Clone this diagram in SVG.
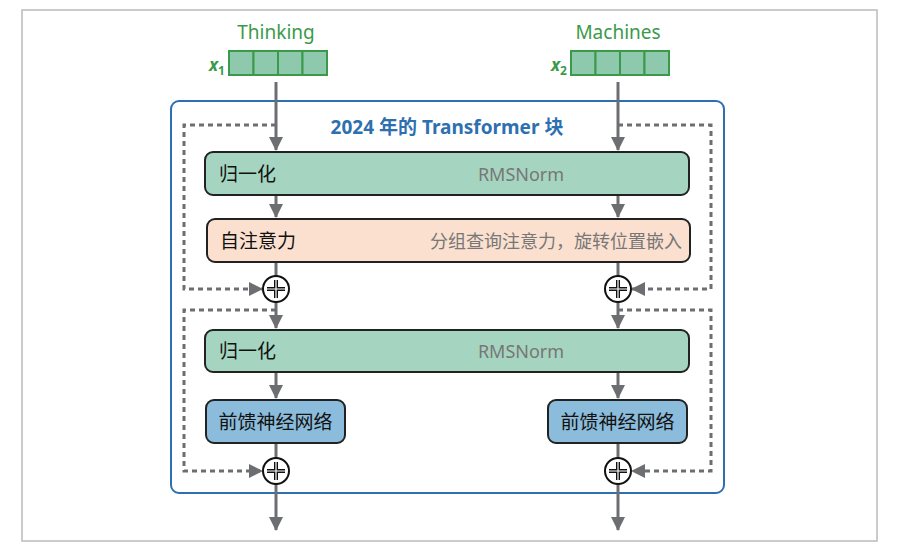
<svg xmlns="http://www.w3.org/2000/svg" width="899" height="550" viewBox="0 0 899 550">
<defs>
<marker id="ah" markerWidth="10" markerHeight="10" refX="8" refY="5" orient="auto" markerUnits="userSpaceOnUse"><path d="M0,0 L10,5 L0,10 Z" fill="#6d6e71"/></marker>
<marker id="ah2" markerWidth="14" markerHeight="14" refX="13" refY="7" orient="auto" markerUnits="userSpaceOnUse"><path d="M0,0 L14,7 L0,14 Z" fill="#6d6e71"/></marker>
<g id="plus"><circle r="13" fill="#fff" stroke="#111" stroke-width="2"/><path d="M-9,0 H9 M0,-9 V9" stroke="#111" stroke-width="4"/><path d="M-9,0 H9 M0,-9 V9" stroke="#fff" stroke-width="1.2"/></g>
</defs>
<style>
text{font-family:"Noto Sans","Noto Sans CJK SC",sans-serif}
.cell{fill:#8fc9ad;stroke:#3a9a4a;stroke-width:2}
.lbl{fill:#3a9a4a;font-size:19px;text-anchor:middle}
.box{stroke:#222;stroke-width:2}
.cn{font-size:19px;fill:#111}
.en{font-size:18px;fill:#777}
.w{stroke:#6d6e71;stroke-width:3;fill:none}
.d{stroke:#6d6e71;stroke-width:3;fill:none;stroke-dasharray:5,4}
</style>
<rect x="22" y="10" width="855" height="531" fill="none" stroke="#bbb" stroke-width="1.5"/>
<g id="input1">
<text class="lbl" x="276" y="39">Thinking</text>
<text x="209" y="71" font-size="17" fill="#3a9a4a" font-style="italic" font-weight="bold">x<tspan font-size="12" dy="4" font-style="normal">1</tspan></text>
<rect class="cell" x="229" y="51" width="24.5" height="24"/><rect class="cell" x="253.5" y="51" width="24.5" height="24"/><rect class="cell" x="278" y="51" width="24.5" height="24"/><rect class="cell" x="302.5" y="51" width="24.5" height="24"/>
</g>
<g id="input2">
<text class="lbl" x="618" y="39">Machines</text>
<text x="551" y="71" font-size="17" fill="#3a9a4a" font-style="italic" font-weight="bold">x<tspan font-size="12" dy="4" font-style="normal">2</tspan></text>
<rect class="cell" x="571" y="51" width="24.5" height="24"/><rect class="cell" x="595.5" y="51" width="24.5" height="24"/><rect class="cell" x="620" y="51" width="24.5" height="24"/><rect class="cell" x="644.5" y="51" width="24.5" height="24"/>
</g>
<g id="block">
<rect x="171" y="101" width="553" height="392" rx="8" fill="none" stroke="#2e6fb0" stroke-width="2"/>
<text x="447" y="134" font-size="19" fill="#2e6fb0" text-anchor="middle" font-weight="bold">2024 年的 Transformer 块</text>
</g>
<g id="connectors">
<path class="w" d="M276,82 V150" marker-end="url(#ah2)"/>
<path class="w" d="M618,82 V150" marker-end="url(#ah2)"/>
<path class="w" d="M276,196 V217" marker-end="url(#ah2)"/>
<path class="w" d="M618,196 V217" marker-end="url(#ah2)"/>
<path class="w" d="M276,263 V276"/><path class="w" d="M618,263 V276"/>
<path class="w" d="M276,302 V328" marker-end="url(#ah2)"/>
<path class="w" d="M618,302 V328" marker-end="url(#ah2)"/>
<path class="w" d="M276,373 V398" marker-end="url(#ah2)"/>
<path class="w" d="M618,373 V398" marker-end="url(#ah2)"/>
<path class="w" d="M276,444 V458"/><path class="w" d="M618,444 V458"/>
<path class="w" d="M276,484 V530" marker-end="url(#ah2)"/>
<path class="w" d="M618,484 V530" marker-end="url(#ah2)"/>
<path class="d" d="M276,125 H184 V289 H262" marker-end="url(#ah2)"/>
<path class="d" d="M618,125 H711 V289 H632" marker-end="url(#ah2)"/>
<path class="d" d="M276,310 H184 V471 H262" marker-end="url(#ah2)"/>
<path class="d" d="M618,310 H711 V471 H632" marker-end="url(#ah2)"/>
</g>
<g id="norm1"><rect class="box" x="205" y="152" width="484" height="43" rx="8" fill="#a5d5c0"/><text class="cn" x="219" y="181">归一化</text><text class="en" x="521" y="181" text-anchor="middle">RMSNorm</text></g>
<g id="attn"><rect class="box" x="207" y="219" width="483" height="43" rx="8" fill="#fbe0cf"/><text class="cn" x="220" y="248">自注意力</text><text class="en" x="682" y="248" text-anchor="end">分组查询注意力，旋转位置嵌入</text></g>
<g id="add1"><use href="#plus" x="276" y="289"/><use href="#plus" x="618" y="289"/></g>
<g id="norm2"><rect class="box" x="205" y="330" width="484" height="42" rx="8" fill="#a5d5c0"/><text class="cn" x="219" y="358">归一化</text><text class="en" x="521" y="358" text-anchor="middle">RMSNorm</text></g>
<g id="ffn1"><rect class="box" x="206" y="400" width="139" height="43" rx="8" fill="#8bbcdb"/><text class="cn" x="275.5" y="429" text-anchor="middle">前馈神经网络</text></g>
<g id="ffn2"><rect class="box" x="548" y="400" width="139" height="43" rx="8" fill="#8bbcdb"/><text class="cn" x="617.5" y="429" text-anchor="middle">前馈神经网络</text></g>
<g id="add2"><use href="#plus" x="276" y="471"/><use href="#plus" x="618" y="471"/></g>
</svg>
